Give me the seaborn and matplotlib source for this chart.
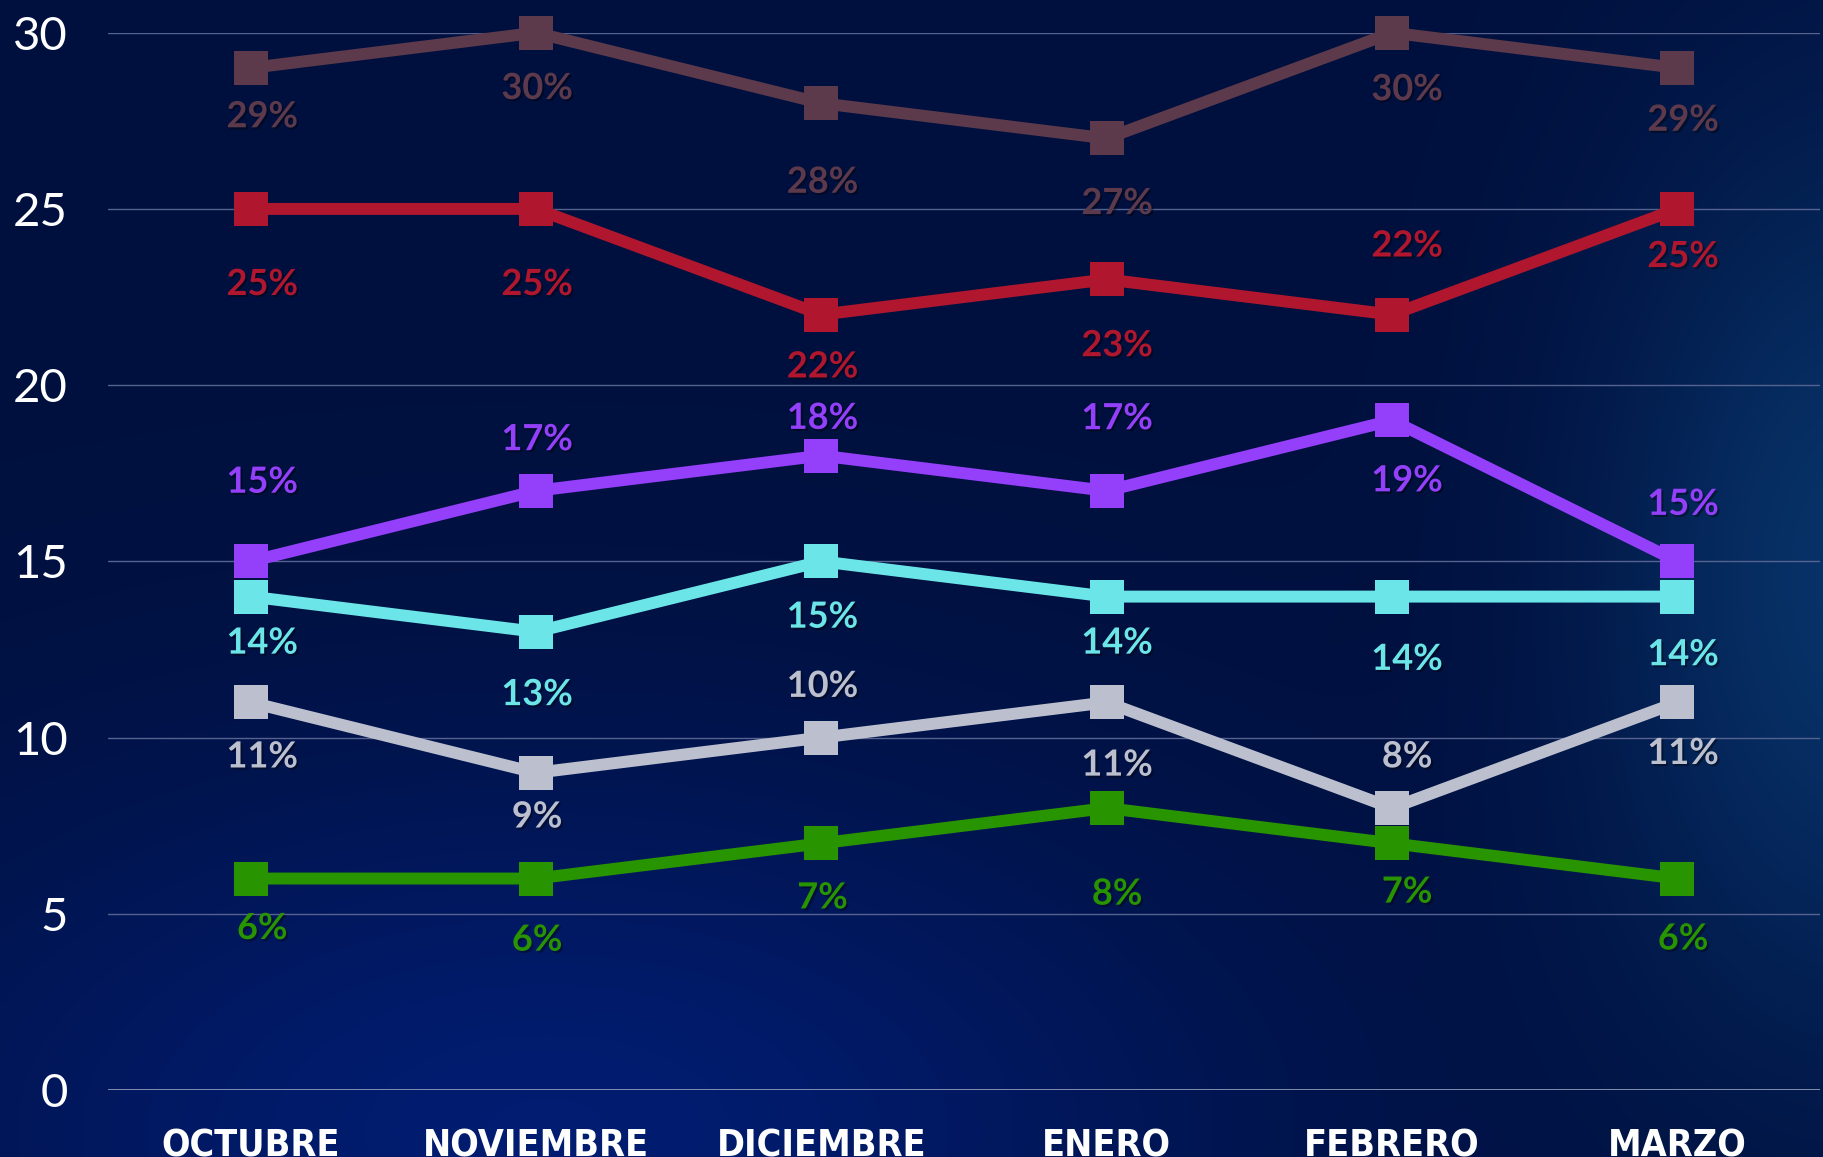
import numpy as np
import pandas as pd
import matplotlib
matplotlib.use("Agg")
import matplotlib.pyplot as plt
import matplotlib.patheffects as pe
from matplotlib import font_manager
import seaborn as sns

# data
months = ["OCTUBRE", "NOVIEMBRE", "DICIEMBRE", "ENERO", "FEBRERO", "MARZO"]
serie_marron = [29, 30, 28, 27, 30, 29]
serie_roja = [25, 25, 22, 23, 22, 25]
serie_morada = [15, 17, 18, 17, 19, 15]
serie_celeste = [14, 13, 15, 14, 14, 14]
serie_gris = [11, 9, 10, 11, 8, 11]
serie_verde = [6, 6, 7, 8, 7, 6]
y_ticks = [0, 5, 10, 15, 20, 25, 30]

# style: colour and label placement (offset below the point, in reference px)
series = [
    (serie_verde, "#279400", [43, 53, 47, 74, 42, 52]),
    (serie_gris, "#BCC0CE", [47, 38, -44, 54, -44, 44]),
    (serie_celeste, "#6CE5E8", [40, 54, 48, 40, 54, 50]),
    (serie_morada, "#9440FA", [-68, -44, -32, -62, 52, -49]),
    (serie_roja, "#B0172E", [65, 65, 45, 57, -59, 41]),
    (serie_marron, "#5C3A4B", [42, 48, 68, 56, 49, 45]),
]
label_dx = [10, 1, 1, 9, 13, 5]
PX = (1824 / 1568) * 72 / 100  # reference px -> points

sns.set_theme(style="white")
plt.rcParams["font.family"] = ["Lato", "DejaVu Sans"]

W, H = 1824, 1157
fig = plt.figure(figsize=(W / 100, H / 100), dpi=100)

# background gradient
h, w = 290, 456
yy, xx = np.mgrid[0:h, 0:w]
xn, yn = xx / (w - 1), yy / (h - 1)
base = np.array([0, 16, 62]) / 255.0
blob = np.array([2, 30, 118]) / 255.0
glow = np.array([10, 62, 118]) / 255.0
g1 = np.exp(-(((xn - 0.3) / 0.38) ** 2 + ((yn - 0.98) / 0.32) ** 2))
g2 = np.exp(-(((xn - 1.02) / 0.14) ** 2 + ((yn - 0.5) / 0.4) ** 2))
img = base[None, None, :] * np.ones((h, w, 3))
img = img + g1[..., None] * (blob - base) * 0.9
img = img + g2[..., None] * (glow - base) * 0.75
img = np.clip(img, 0, 1)
bg = fig.add_axes([0, 0, 1, 1], zorder=-1)
bg.imshow(img, aspect="auto", extent=[0, 1, 0, 1], interpolation="bicubic")
bg.axis("off")

ax = fig.add_axes([108 / W, 1 - 1090 / H, (1820 - 108) / W, (1090 - 32.7) / H])
ax.set_facecolor("none")

for yt in y_ticks[1:]:
    ax.axhline(yt, color="#56628F", lw=1.0, zorder=1)
ax.axhline(0, color="#A9B0C9", lw=1.8, zorder=1)

x = np.arange(len(months))
for vals, color, offs in series:
    df = pd.DataFrame({"x": x, "y": vals})
    sns.lineplot(data=df, x="x", y="y", ax=ax, color=color, lw=8.6,
                 marker="s", markersize=25, markeredgewidth=0, clip_on=False, zorder=3)
    for i, v in enumerate(vals):
        ax.annotate(f"{v}%", (x[i], v), xytext=(label_dx[i] * PX, -offs[i] * PX),
                    textcoords="offset points", ha="center", va="center",
                    fontsize=26, fontweight="bold", color=color, zorder=4,
                    path_effects=[pe.SimplePatchShadow(offset=(1.5, -1.5), shadow_rgbFace="black", alpha=0.35),
                                  pe.Normal()])

ax.set_xlim(-0.5, 5.5)
ax.set_ylim(0, 30)
ax.set_yticks(y_ticks)
ax.set_yticklabels([str(t) for t in y_ticks], color="white", fontsize=34, fontweight="normal")

cond = font_manager.FontProperties(family="DejaVu Sans", stretch="condensed", weight="bold", size=27)
ax.set_xticks(x)
ax.set_xticklabels(months, color="white", fontproperties=cond, va="top")
ax.tick_params(axis="y", length=0, pad=29)
ax.tick_params(axis="x", length=0, pad=28)
ax.set_xlabel("")
ax.set_ylabel("")
for s in ax.spines.values():
    s.set_visible(False)

fig.savefig("out.png", dpi=100)
